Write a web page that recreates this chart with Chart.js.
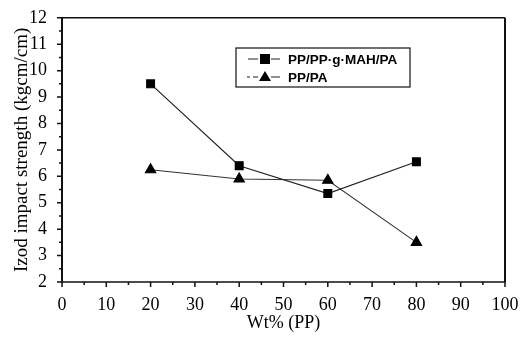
<!DOCTYPE html>
<html><head><meta charset="utf-8">
<script src="https://cdn.jsdelivr.net/npm/chart.js@4.4.1/dist/chart.umd.min.js"></script>
<style>html,body{margin:0;padding:0;background:#fff}#wrap{width:527px;height:340px}</style>
</head><body><div id="wrap"><canvas id="c" width="527" height="340"></canvas></div>
<script>
const wtPP = [20, 40, 60, 80];
const mahSeries = [9.5, 6.4, 5.35, 6.55];
const ppPaSeries = [6.25, 5.9, 5.85, 3.5];
const seriesNames = ['PP/PP\u00B7g\u00B7MAH/PA', 'PP/PA'];
const xTickValues = [0,10,20,30,40,50,60,70,80,90,100];
const yTickValues = [2,3,4,5,6,7,8,9,10,11,12];

const serif = "'Liberation Serif', 'DejaVu Serif', serif";
const sans = "'Liberation Sans', Arial, sans-serif";

const frameTicks = {
  id: 'frameTicks',
  afterDraw(chart) {
    const ctx = chart.ctx, a = chart.chartArea;
    const xs = chart.scales.x, ys = chart.scales.y;
    ctx.save();
    ctx.strokeStyle = '#111';
    ctx.lineWidth = 1.5;
    ctx.beginPath();
    ctx.moveTo(a.left, a.top); ctx.lineTo(a.right, a.top);
    ctx.moveTo(a.left, a.bottom); ctx.lineTo(a.right, a.bottom);
    ctx.stroke();
    ctx.lineWidth = 2;
    ctx.beginPath();
    ctx.moveTo(a.left, a.top); ctx.lineTo(a.left, a.bottom);
    ctx.moveTo(a.right, a.top); ctx.lineTo(a.right, a.bottom);
    ctx.stroke();
    ctx.lineWidth = 1.5;
    ctx.beginPath();
    for (let v = xs.min; v <= xs.max; v += 5) {
      const px = xs.getPixelForValue(v);
      const len = (v % 10 === 0) ? 5 : 3;
      ctx.moveTo(px, a.bottom); ctx.lineTo(px, a.bottom + len);
    }
    for (let v = ys.min; v <= ys.max; v += 0.5) {
      const py = ys.getPixelForValue(v);
      const len = (v % 1 === 0) ? 5 : 3;
      ctx.moveTo(a.left, py); ctx.lineTo(a.left - len, py);
    }
    ctx.stroke();
    // legend
    const lx = 236, ly = 48, lw = 174, lh = 39;
    ctx.lineWidth = 1.2;
    ctx.strokeRect(lx, ly, lw, lh);
    const rows = [ly + 11, ly + 29];
    chart.data.datasets.forEach((ds, i) => {
      const y = rows[i];
      ctx.strokeStyle = '#222';
      ctx.lineWidth = 1.2;
      ctx.beginPath();
      if (i === 0) {
        ctx.moveTo(lx + 12, y); ctx.lineTo(lx + 22, y);
        ctx.moveTo(lx + 35, y); ctx.lineTo(lx + 44, y);
      } else {
        ctx.moveTo(lx + 11, y); ctx.lineTo(lx + 14, y);
        ctx.moveTo(lx + 17, y); ctx.lineTo(lx + 22, y);
        ctx.moveTo(lx + 35, y); ctx.lineTo(lx + 44, y);
      }
      ctx.stroke();
      ctx.fillStyle = '#000';
      const mx = lx + 29;
      if (i === 0) {
        ctx.fillRect(mx - 5, y - 5, 10, 10);
      } else {
        ctx.beginPath();
        ctx.moveTo(mx, y - 6); ctx.lineTo(mx + 6, y + 4); ctx.lineTo(mx - 6, y + 4);
        ctx.closePath(); ctx.fill();
      }
      ctx.font = "bold 13.5px " + sans;
      ctx.textBaseline = 'middle';
      ctx.textAlign = 'left';
      ctx.fillText(ds.label, lx + 52, y + 1);
    });
    ctx.restore();
  }
};

new Chart(document.getElementById('c'), {
  type: 'line',
  data: {
    datasets: [
      {
        label: seriesNames[0],
        data: wtPP.map((x, i) => ({x, y: mahSeries[i]})),
        borderColor: '#222', borderWidth: 1.2,
        pointStyle: 'rect', pointRadius: 5.5, pointBackgroundColor: '#000', pointBorderColor: '#000',
        tension: 0, fill: false
      },
      {
        label: seriesNames[1],
        data: wtPP.map((x, i) => ({x, y: ppPaSeries[i]})),
        borderColor: '#333', borderWidth: 1.1,
        pointStyle: 'triangle', pointRadius: 6, pointBackgroundColor: '#000', pointBorderColor: '#000',
        tension: 0, fill: false
      }
    ]
  },
  options: {
    responsive: false, animation: false, devicePixelRatio: 1,
    layout: { padding: { top: 14, right: 22, left: 0, bottom: 0 } },
    plugins: { legend: { display: false }, tooltip: { enabled: false } },
    scales: {
      x: {
        type: 'linear', min: 0, max: 100,
        afterFit(s) { s.height = 58; },
        afterBuildTicks(s) { s.ticks = xTickValues.map(v => ({value: v})); },
        grid: { display: false }, border: { display: false },
        ticks: { color: '#000', font: { family: serif, size: 18 }, padding: 4, maxRotation: 0 },
        title: { display: true, text: 'Wt% (PP)', color: '#000', font: { family: serif, size: 18 }, padding: { top: 0, bottom: 6 } }
      },
      y: {
        type: 'linear', min: 2, max: 12,
        afterFit(s) { s.width = 62; },
        afterBuildTicks(s) { s.ticks = yTickValues.map(v => ({value: v})); },
        grid: { display: false }, border: { display: false },
        ticks: { color: '#000', font: { family: serif, size: 18 }, padding: 7 },
        title: { display: true, text: 'Izod impact strength (kgcm/cm)', color: '#000', font: { family: serif, size: 19 }, padding: { top: 11, bottom: 0 } }
      }
    }
  },
  plugins: [frameTicks]
});
</script>
</body></html>
